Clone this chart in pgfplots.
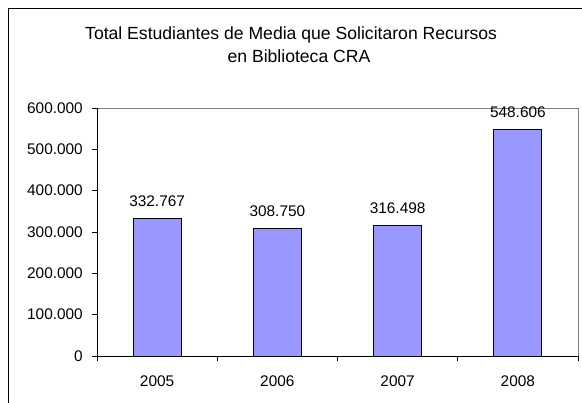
\documentclass[border=0pt]{standalone}
\usepackage{pgfplots}
\pgfplotsset{compat=1.18}
\usepackage{fontspec}
\setmainfont{Liberation Sans}
\definecolor{barfill}{HTML}{9999FF}
\definecolor{framegray}{HTML}{808080}
\begin{document}
\begin{tikzpicture}[x=1pt,y=1pt]
\useasboundingbox (0,0) rectangle (582,403);
\fill[white] (0,0) rectangle (582,403);
\draw[black, line width=1pt] (8,-5) -- (8,394) -- (590,394);
\node[anchor=base west, font=\fontsize{17.6}{20}\selectfont, inner sep=0pt] at (85,363.5) {Total Estudiantes de Media que Solicitaron Recursos};
\node[anchor=base, font=\fontsize{17.6}{20}\selectfont, inner sep=0pt] at (299,340.5) {en Biblioteca CRA};
\begin{axis}[
  at={(97pt,47pt)}, anchor=south west,
  scale only axis, width=481pt, height=248pt,
  xmin=-0.5, xmax=3.5, ymin=0, ymax=600000,
  axis line style={draw=none},
  xtick={0,1,2,3},
  xticklabels={2005,2006,2007,2008},
  minor xtick={-0.5,0.5,1.5,2.5,3.5},
  major x tick style={draw=none},
  minor x tick style={black, line width=0.8pt},
  minor tick length=5pt,
  ytick={0,100000,200000,300000,400000,500000,600000},
  y tick style={black, line width=0.8pt},
  major tick length=5pt,
  tick align=outside,
  xtick pos=bottom, ytick pos=left,
  scaled y ticks=false,
  /pgf/number format/.cd, fixed, precision=0, 1000 sep={.}, assume math mode=true,
  /pgfplots/.cd,
  tick label style={font=\fontsize{15.4}{18}\selectfont},
  yticklabel style={anchor=east, inner sep=0pt, xshift=-9pt},
  xticklabel style={anchor=base, inner sep=0pt, yshift=-25.5pt},
  clip=false,
]
\draw[framegray, line width=0.8pt] (rel axis cs:0,1) -- (rel axis cs:1,1) -- (rel axis cs:1,0);
\addplot[ybar, bar width=48pt, fill=barfill, draw=black, line width=0.8pt,
  nodes near coords,
  every node near coord/.append style={font=\fontsize{15.4}{18}\selectfont, anchor=base, inner sep=0pt, yshift=12pt},
] coordinates {(0,332767) (1,308750) (2,316498) (3,548606)};
\draw[black, line width=0.8pt] (rel axis cs:0,1) -- (rel axis cs:0,0) -- (rel axis cs:1,0);
\end{axis}
\end{tikzpicture}
\end{document}
